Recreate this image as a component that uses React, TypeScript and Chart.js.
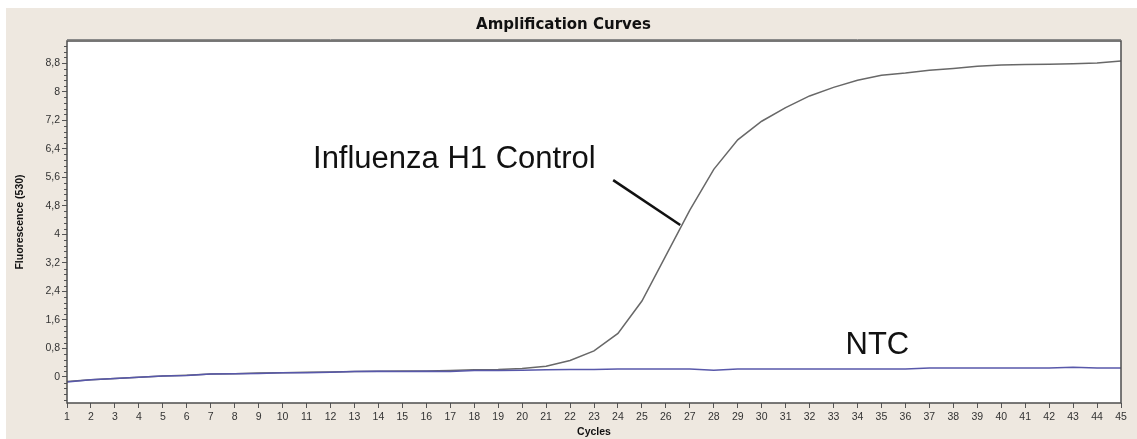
import React, { useEffect, useRef } from "react";
import { Chart, registerables } from "chart.js";

Chart.register(...registerables);

const cycles = [
  1, 2, 3, 4, 5, 6, 7, 8, 9, 10, 11, 12, 13, 14, 15, 16, 17, 18, 19, 20, 21, 22, 23,
  24, 25, 26, 27, 28, 29, 30, 31, 32, 33, 34, 35, 36, 37, 38, 39, 40, 41, 42, 43, 44, 45,
];

const influenzaH1 = [
  -0.13, -0.08, -0.04, -0.01, 0.03, 0.05, 0.08, 0.09, 0.11, 0.12, 0.13, 0.14, 0.15, 0.16,
  0.17, 0.17, 0.18, 0.2, 0.21, 0.24, 0.3, 0.46, 0.73, 1.22, 2.13, 3.4, 4.68, 5.82, 6.65,
  7.17, 7.55, 7.88, 8.12, 8.32, 8.46, 8.52, 8.6, 8.65, 8.71, 8.75, 8.76, 8.77, 8.78, 8.8,
  8.86,
];

const ntc = [
  -0.14, -0.08, -0.04, -0.01, 0.03, 0.04, 0.08, 0.09, 0.1, 0.12, 0.12, 0.13, 0.15, 0.16,
  0.15, 0.16, 0.15, 0.18, 0.18, 0.19, 0.2, 0.21, 0.21, 0.22, 0.22, 0.22, 0.22, 0.19, 0.22,
  0.22, 0.22, 0.22, 0.22, 0.22, 0.22, 0.22, 0.25, 0.25, 0.25, 0.25, 0.25, 0.25, 0.27, 0.25,
  0.25,
];

const yTickValues = [0, 0.8, 1.6, 2.4, 3.2, 4, 4.8, 5.6, 6.4, 7.2, 8, 8.8];

const chartTitle = "Amplification Curves";
const xAxisTitle = "Cycles";
const yAxisTitle = "Fluorescence (530)";

const influenzaLabel = "Influenza H1 Control";
const influenzaLabelAt = [11.27, 6.1];
const influenzaPointerFrom = [23.8, 5.52];
const influenzaPointerTo = [26.6, 4.26];
const ntcLabel = "NTC";
const ntcLabelAt = [33.5, 0.87];

const BEIGE = "#EEE8E0";

const framePlugin = {
  id: "frame",
  beforeDraw(chart: any) {
    const { ctx, chartArea } = chart;
    const { left, top, right, bottom } = chartArea;
    ctx.save();
    ctx.fillStyle = "#ffffff";
    ctx.fillRect(left, top, right - left, bottom - top);
    ctx.restore();
  },
  afterDraw(chart: any) {
    const { ctx, chartArea, scales } = chart;
    const { left, top, right, bottom } = chartArea;
    const ys = scales.y;
    const xs = scales.x;
    ctx.save();
    // minor y ticks
    ctx.strokeStyle = "#555";
    ctx.lineWidth = 1;
    for (let i = -4; i <= 58; i++) {
      const v = i * 0.16;
      if (v < ys.min || v > ys.max) continue;
      if (i % 5 === 0) continue;
      const py = Math.round(ys.getPixelForValue(v)) + 0.5;
      ctx.beginPath();
      ctx.moveTo(left - 3, py);
      ctx.lineTo(left, py);
      ctx.stroke();
    }
    // plot border
    ctx.strokeStyle = "#4d4d4d";
    ctx.lineWidth = 1.5;
    ctx.strokeRect(left, top, right - left, bottom - top);
    ctx.strokeStyle = "#8a8a8a";
    ctx.lineWidth = 1;
    ctx.beginPath();
    ctx.moveTo(left, top - 1.5);
    ctx.lineTo(right, top - 1.5);
    ctx.stroke();

    // annotations
    ctx.fillStyle = "#111";
    ctx.font = '31px "Liberation Sans", Arial, sans-serif';
    ctx.textBaseline = "middle";
    ctx.textAlign = "left";
    ctx.fillText(
      influenzaLabel,
      xs.getPixelForValue(influenzaLabelAt[0]),
      ys.getPixelForValue(influenzaLabelAt[1])
    );
    ctx.fillText(
      ntcLabel,
      xs.getPixelForValue(ntcLabelAt[0]),
      ys.getPixelForValue(ntcLabelAt[1])
    );
    ctx.strokeStyle = "#111";
    ctx.lineWidth = 2.5;
    ctx.beginPath();
    ctx.moveTo(xs.getPixelForValue(influenzaPointerFrom[0]), ys.getPixelForValue(influenzaPointerFrom[1]));
    ctx.lineTo(xs.getPixelForValue(influenzaPointerTo[0]), ys.getPixelForValue(influenzaPointerTo[1]));
    ctx.stroke();
    ctx.restore();
  },
};

export default function App() {
  const canvasRef = useRef<HTMLCanvasElement | null>(null);

  useEffect(() => {
    const canvas = canvasRef.current;
    if (!canvas) return;
    const tickFont = { family: '"Liberation Sans", Arial, sans-serif', size: 10.5 };
    const chart = new Chart(canvas, {
      type: "line",
      data: {
        datasets: [
          {
            label: "NTC",
            data: cycles.map((c, i) => ({ x: c, y: ntc[i] })),
            borderColor: "#5858aa",
            borderWidth: 1.5,
            pointRadius: 0,
            tension: 0,
            fill: false,
          },
          {
            label: "Influenza H1 Control",
            data: cycles.map((c, i) => ({ x: c, y: influenzaH1[i] })),
            borderColor: "#686868",
            borderWidth: 1.5,
            pointRadius: 0,
            tension: 0,
            fill: false,
          },
        ],
      },
      options: {
        animation: false,
        responsive: false,
        maintainAspectRatio: false,
        layout: { padding: { left: 0, right: 16, top: 0, bottom: 0 } },
        plugins: {
          legend: { display: false },
          tooltip: { enabled: false },
          title: {
            display: true,
            text: chartTitle,
            color: "#111",
            font: { family: '"DejaVu Sans", Arial, sans-serif', size: 15, weight: "bold" },
            padding: { top: 8, bottom: 7 },
          },
        },
        scales: {
          x: {
            type: "linear",
            min: 1,
            max: 45,
            afterFit: (scale: any) => {
              scale.height = 36;
            },
            ticks: {
              stepSize: 1,
              autoSkip: false,
              maxRotation: 0,
              color: "#333",
              font: tickFont,
              padding: 3,
            },
            grid: {
              drawOnChartArea: false,
              drawTicks: true,
              tickLength: 5,
              color: "#555",
            },
            border: { display: false },
            title: {
              display: true,
              text: xAxisTitle,
              color: "#111",
              font: { family: '"Liberation Sans", Arial, sans-serif', size: 10.5, weight: "bold" },
              padding: { top: 0, bottom: 1 },
            },
          },
          y: {
            type: "linear",
            min: -0.73,
            max: 9.42,
            afterFit: (scale: any) => {
              scale.width = 61;
            },
            afterBuildTicks: (scale: any) => {
              scale.ticks = yTickValues.map((v) => ({ value: v }));
            },
            ticks: {
              color: "#333",
              font: tickFont,
              padding: 2,
              callback: (value: any) => {
                const n = Number(value);
                const s = Math.abs(n - Math.round(n)) < 1e-6 ? String(Math.round(n)) : n.toFixed(1);
                return s.replace(".", ",");
              },
            },
            grid: {
              drawOnChartArea: false,
              drawTicks: true,
              tickLength: 5,
              color: "#555",
            },
            border: { display: false },
            title: {
              display: true,
              text: yAxisTitle,
              color: "#111",
              font: { family: '"Liberation Sans", Arial, sans-serif', size: 10.5, weight: "bold" },
              padding: { top: 8, bottom: 0 },
            },
          },
        },
      },
      plugins: [framePlugin],
    });
    return () => chart.destroy();
  }, []);

  return (
    <div
      style={{
        position: "absolute",
        left: 6,
        top: 8,
        width: 1131,
        height: 431,
        background: BEIGE,
      }}
    >
      <canvas ref={canvasRef} width={1131} height={431} style={{ display: "block" }} />
    </div>
  );
}
